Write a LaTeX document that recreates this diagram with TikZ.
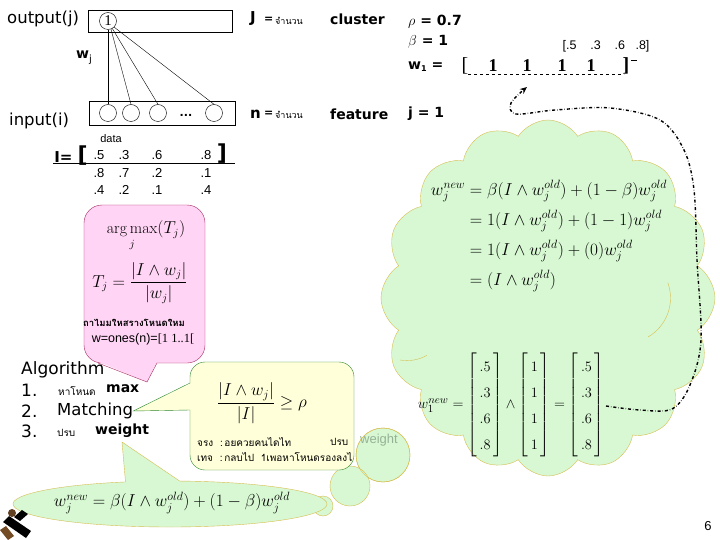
\documentclass[tikz,border=0pt]{standalone}
\usepackage{fontspec}
\usepackage{amsmath}
\usetikzlibrary{shapes.symbols,shapes.callouts,arrows.meta}
\newfontfamily\labf{DejaVu Sans}
\newfontfamily\thaif[Script=Thai]{Loma}
\newfontfamily\arf{Liberation Sans}
\newfontfamily\tmsf{Liberation Serif}
\definecolor{pinkfill}{RGB}{255,212,245}
\definecolor{pinkline}{RGB}{165,40,95}
\definecolor{yelfill}{RGB}{255,255,218}
\definecolor{yelline}{RGB}{45,135,45}
\definecolor{mint}{RGB}{215,248,210}
\definecolor{cloudline}{RGB}{215,190,80}
\definecolor{fadetxt}{RGB}{150,178,150}
\tikzset{
  lbl/.style={font=\labf\fontsize{14}{16}\selectfont, inner sep=0pt, anchor=west},
  blbl/.style={font=\labf\bfseries\fontsize{14}{16}\selectfont, inner sep=0pt, anchor=west},
  ths/.style={font=\thaif\fontsize{10}{12}\selectfont, inner sep=0pt, anchor=west},
  num/.style={font=\arf\fontsize{13}{15}\selectfont, inner sep=0pt},
  unit/.style={circle, draw, minimum size=17pt, inner sep=0pt},
  mth/.style={inner sep=0pt},
  puff/.style={circle, draw=cloudline, fill=mint, inner sep=0pt},
}
\begin{document}
\begin{tikzpicture}[x=1pt,y=-1pt]
\useasboundingbox (0,0) rectangle (720,540);
\fill[white] (0,0) rectangle (720,540);

% ---------- network ----------
\node[lbl, font=\labf\fontsize{16.5}{18}\selectfont] (outlbl) at (7,19) {output(j)};
\draw (88,10) rectangle (232,32);
\node[unit, font=\tmsf\fontsize{15}{15}\selectfont] (o1) at (108,21) {1};
\draw (89,101) rectangle (235,125);
\node[unit] (i1) at (108,113) {};
\node[unit] (i2) at (131,113) {};
\node[unit] (i3) at (158,113) {};
\node[unit] (i4) at (214,113) {};
\node[font=\labf\bfseries\fontsize{11}{11}\selectfont, inner sep=0pt] (dots) at (186,115) {...};
\draw (o1.south) -- (i1.north);
\draw (o1.-70) -- (i2.north);
\draw (o1.-60) -- (i3.north);
\draw (o1.-45) -- (i4.north);
\node[lbl, font=\labf\bfseries\fontsize{14}{16}\selectfont] (wj) at (76,58) {w\raisebox{-4pt}{\fontsize{10}{10}\selectfont\mdseries j}};
\node[lbl, font=\labf\fontsize{16.5}{18}\selectfont] (inlbl) at (9,121) {input(i)};

% ---------- data ----------
\node[font=\arf\fontsize{11}{12}\selectfont, inner sep=0pt] (data) at (111,139) {data};
\node[font=\labf\bfseries\fontsize{15}{16}\selectfont, inner sep=0pt] (Ieq) at (71,156) {I= \fontsize{22}{22}\selectfont[};
\node[num] (d11) at (99,155) {.5};
\node[num] (d12) at (124,155) {.3};
\node[num] (d13) at (157,155) {.6};
\node[num] (d14) at (206,155) {.8};
\node[font=\labf\bfseries\fontsize{22}{22}\selectfont, inner sep=0pt] (rb) at (222,154) {]};
\draw (53,163) -- (235,163);
\node[num] (d21) at (99,173) {.8};
\node[num] (d22) at (124,173) {.7};
\node[num] (d23) at (157,173) {.2};
\node[num] (d24) at (206,173) {.1};
\node[num] (d31) at (99,190) {.4};
\node[num] (d32) at (124,190) {.2};
\node[num] (d33) at (157,190) {.1};
\node[num] (d34) at (206,190) {.4};

% ---------- J / n ----------
\node[blbl, font=\labf\bfseries\fontsize{15}{16}\selectfont] (J) at (250,19) {J};
\node[blbl, font=\labf\bfseries\fontsize{11}{12}\selectfont] (Jeq) at (264,20) {=};
\node[ths, font=\thaif\fontsize{9}{10}\selectfont] (Jth) at (275,21) {จำนวน};
\node[blbl] (cl) at (330,19) {cluster};
\node[blbl, font=\labf\bfseries\fontsize{15}{16}\selectfont] (nn) at (250,114) {n};
\node[blbl, font=\labf\bfseries\fontsize{11}{12}\selectfont] (neq) at (264,114) {=};
\node[ths, font=\thaif\fontsize{9}{10}\selectfont] (nth) at (275,115) {จำนวน};
\node[blbl] (ft) at (330,114) {feature};

% ---------- parameters ----------
\node[blbl] (rho) at (408,22) {$\rho$ = 0.7};
\node[blbl] (beta) at (408,42) {$\beta$ = 1};
\node[blbl] (w1) at (408,67) {w\raisebox{-2pt}{\fontsize{8}{8}\selectfont 1} =};
\node[font=\tmsf\fontsize{20}{20}\selectfont, inner sep=0pt] (wlb) at (465,66) {[};
\node[font=\tmsf\bfseries\fontsize{18}{18}\selectfont, inner sep=0pt] (wa) at (493,66) {1};
\node[font=\tmsf\bfseries\fontsize{18}{18}\selectfont, inner sep=0pt] (wb) at (527,66) {1};
\node[font=\tmsf\bfseries\fontsize{18}{18}\selectfont, inner sep=0pt] (wc) at (562,66) {1};
\node[font=\tmsf\bfseries\fontsize{18}{18}\selectfont, inner sep=0pt] (wd) at (591,66) {1};
\node[font=\tmsf\bfseries\fontsize{20}{20}\selectfont, inner sep=0pt] (wrb) at (626,66) {]};
\draw[dashed] (468,74) -- (624,74);
\draw (631,60) -- (637,60);
\node[font=\arf\fontsize{12.5}{13}\selectfont, inner sep=0pt] (wval) at (606,46) {[.5\ \ \ \ .3\ \ \ \ .6\ \ \ .8]};
\node[blbl] (jj) at (408,114) {j = 1};

% ---------- cloud ----------
\node[cloud, cloud puffs=16, cloud puff arc=115, cloud ignores aspect, draw=cloudline, fill=mint,
      minimum width=334pt, minimum height=356pt] (cloud) at (548,298) {};
\node[puff, minimum size=54pt] (p1) at (383,455) {};
\node[puff, minimum size=40pt] (p2) at (350,486) {};
\node[puff, minimum size=20pt] (p3) at (323,506) {};
\draw[cloudline] (648,337) arc[start angle=60, end angle=-20, radius=45];
\draw[cloudline] (400,360) arc[start angle=100, end angle=60, radius=40];

\node[mth, font=\fontsize{16.5}{20}\selectfont] (eqs) at (549,236)
 {\setlength{\jot}{7pt}$\begin{aligned}
  w_j^{new} &= \beta(I\wedge w_j^{old})+(1-\beta)w_j^{old}\\
  &= 1(I\wedge w_j^{old})+(1-1)w_j^{old}\\
  &= 1(I\wedge w_j^{old})+(0)w_j^{old}\\
  &= (I\wedge w_j^{old})
 \end{aligned}$};
\node[mth, font=\fontsize{15.5}{16.2}\selectfont] (meq) at (511,405)
 {\renewcommand{\arraystretch}{1.6}\setlength{\arraycolsep}{2.5pt}$w_1^{new}=\left[\begin{array}{c}.5\\.3\\.6\\.8\end{array}\right]\wedge\left[\begin{array}{c}1\\1\\1\\1\end{array}\right]=\left[\begin{array}{c}.5\\.3\\.6\\.8\end{array}\right]$};

% ---------- bottom ellipse ----------
\node[ellipse callout, draw=cloudline, fill=mint, minimum width=314pt, minimum height=46pt, inner sep=0pt,
      callout absolute pointer={(122,442)}, callout pointer arc=20] (bot) at (170,504) {};
\node[mth, font=\fontsize{17}{20}\selectfont] (botf) at (172,503)
 {$w_j^{new}=\beta(I\wedge w_j^{old})+(1-\beta)w_j^{old}$};

% ---------- pink box ----------
\draw[pinkline, fill=pinkfill, rounded corners=18] (84,205) rectangle (205,363);
\fill[pinkfill] (98,361.5) -- (147,382) -- (157,361.5) -- cycle;
\draw[pinkline] (98,363) -- (147,382) -- (157,363);
\node[mth, font=\fontsize{16}{18}\selectfont] (argmax) at (146,236) {$\displaystyle\mathop{\mathrm{arg\,max}}\limits_j(T_j)$};
\node[mth, font=\fontsize{16}{18}\selectfont] (Tj) at (140,283) {$\displaystyle T_j=\frac{\left|I\wedge w_j\right|}{\left|w_j\right|}$};
\node[ths, font=\thaif\bfseries\fontsize{9.5}{10}\selectfont, anchor=center] (newnode) at (134,323) {ถาไมมใหสรางโหนดใหม};
\node[inner sep=0pt] (ones) at (143,339) {\arf\fontsize{12.5}{13}\selectfont w=ones(n)=\tmsf[1 1..1[};

% ---------- algorithm ----------
\node[lbl, font=\labf\fontsize{17}{18}\selectfont] (alg) at (21,370) {Algorithm};
\node[lbl, font=\labf\fontsize{17}{18}\selectfont] (s1) at (21,390) {1.};
\node[ths] (s1t) at (58,391) {หาโหนด};
\node[blbl] (s1m) at (106,389) {max};
\node[lbl, font=\labf\fontsize{17}{18}\selectfont] (s2) at (21,411) {2.};
\node[lbl, font=\labf\fontsize{16.5}{18}\selectfont] (s2m) at (57,411) {Matching};
\node[lbl, font=\labf\fontsize{17}{18}\selectfont] (s3) at (21,431) {3.};
\node[ths] (s3t) at (57,433) {ปรบ};
\node[blbl] (s3w) at (95,431) {weight};

% ---------- yellow box ----------
\draw[yelline, fill=yelfill, rounded corners=15] (190,362) rectangle (354,470);
\fill[yelfill] (191.5,383) -- (s2m.east) -- (191.5,410) -- cycle;
\draw[yelline] (190,383) -- (s2m.east) -- (190,410);
\draw[cloudline] (p1) circle (27pt);
\node[mth, font=\fontsize{17}{20}\selectfont] (frac) at (262,403) {$\displaystyle\frac{\left|I\wedge w_j\right|}{\left|I\right|}\geq\rho$};
\node[ths] (t1) at (197,442) {จรง\ \ :\,อยควยคนไดไท};
\node[ths] (t1b) at (330,442) {ปรบ};
\node[font=\arf\fontsize{13}{14}\selectfont, text=fadetxt, inner sep=0pt, anchor=west] (wfade) at (360,440) {weight};
\node[ths] (t2) at (197,457) {เทจ\ \ :\,กลบไป\ \ 1เพอหาโหนดรองลงไ};

% ---------- dash-dot arrow ----------
\coordinate (arrS) at (606,406);
\coordinate (arrE) at (527,87);
\draw[dash dot, line width=1.4pt, -{Stealth[length=7pt,width=6pt]}]
  plot[smooth, tension=0.55] coordinates {(arrS) (640,410) (672,409) (690,385) (701,340) (697,260) (694,190) (684,150) (660,120) (610,108) (555,110) (516,114) (511,103) (arrE)};

% ---------- clipart & page number ----------
\fill[black] (3,522) -- (9,516) -- (31,531) -- (26,538) -- cycle;
\fill[brown!50!black] (12,513) circle (4);
\fill[black] (14,517) -- (22,510) -- (28,514) -- (20,521) -- cycle;
\fill[brown!60!black] (0,530) -- (6,526) -- (14,536) -- (8,540) -- cycle;
\node[font=\arf\fontsize{13}{14}\selectfont, inner sep=0pt] (pg) at (708,526) {6};
\end{tikzpicture}
\end{document}
